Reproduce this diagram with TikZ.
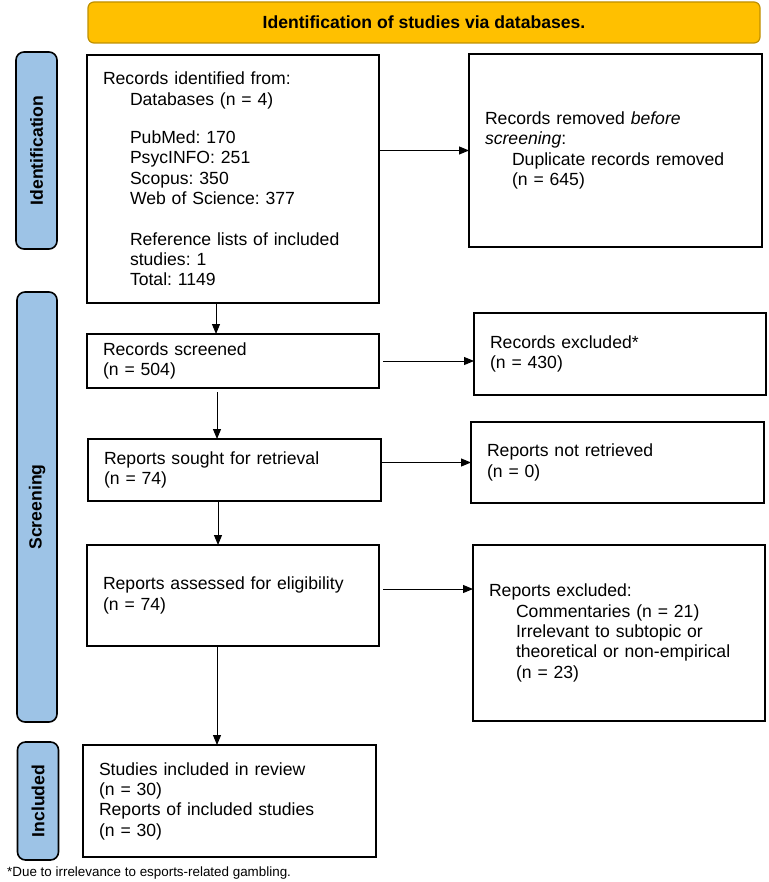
\documentclass[tikz,border=0pt]{standalone}
\usepackage{fontspec}
\setmainfont{Liberation Sans}
\usetikzlibrary{arrows.meta}
\definecolor{gold}{HTML}{FFC000}
\definecolor{golddk}{HTML}{BF9000}
\definecolor{stageblue}{HTML}{9DC3E6}
\tikzset{
  flowbox/.style={draw=black, line width=1.7pt, fill=white, inner xsep=16pt, inner ysep=0pt,
    outer sep=0pt, align=left, anchor=north west, font=\fontsize{17.6}{20.3}\selectfont},
  stage/.style={draw=black, line width=1.6pt, fill=stageblue, rounded corners=8pt, rotate=90,
    inner sep=0pt, font=\bfseries\fontsize{17.6}{20}\selectfont},
  flow/.style={line width=1pt, -{Triangle[length=10pt,width=8pt]}},
}
\newcommand{\ind}{\hspace*{27pt}}
\frenchspacing
\begin{document}
\frenchspacing
\begin{tikzpicture}[x=1pt,y=-1pt]
\useasboundingbox (0,0) rectangle (768,882);
% banner
\node[draw=golddk, line width=1.2pt, fill=gold, rounded corners=6pt, minimum width=672pt,
  minimum height=41pt, inner sep=0pt, font=\bfseries\fontsize{17.6}{20}\selectfont]
  (banner) at (424,22.5) {Identification of studies via databases.};
% stage labels
\node[stage, minimum width=197pt, minimum height=41pt] (sid) at (36.5,150.5) {Identification};
\node[stage, minimum width=430pt, minimum height=40pt] (sscr) at (37,507) {Screening};
\node[stage, minimum width=118pt, minimum height=41pt] (sinc) at (38,801) {Included};
% boxes
\node[flowbox, text width=260pt, minimum height=248pt] (ident) at (87,55) {Records identified from:\\
\ind Databases (n = 4)\\[18pt]
\ind PubMed: 170\\
\ind PsycINFO: 251\\
\ind Scopus: 350\\
\ind Web of Science: 377\\[20.3pt]
\ind Reference lists of included\\
\ind studies: 1\\
\ind Total: 1149};
\node[flowbox, text width=261pt, minimum height=193pt] (removed) at (469,54) {Records removed \textit{before}\\
\textit{screening}:\\
\ind Duplicate records removed\\
\ind (n = 645)};
\node[flowbox, text width=260pt, minimum height=54pt] (screened) at (87,334) {Records screened\\(n = 504)};
\node[flowbox, text width=260pt, minimum height=82pt] (excl) at (474,313) {Records excluded*\\(n = 430)};
\node[flowbox, text width=261pt, minimum height=62pt] (sought) at (88,439) {Reports sought for retrieval\\(n = 74)};
\node[flowbox, text width=261pt, minimum height=81pt] (notret) at (471,422) {Reports not retrieved\\(n = 0)};
\node[flowbox, text width=260pt, minimum height=101pt] (assessed) at (87,545) {Reports assessed for eligibility\\(n = 74)};
\node[flowbox, text width=260pt, minimum height=176pt] (repexcl) at (473,545) {Reports excluded:\\
\ind Commentaries (n = 21)\\
\ind Irrelevant to subtopic or\\
\ind theoretical or non-empirical\\
\ind (n = 23)};
\node[flowbox, text width=261pt, minimum height=112pt] (included) at (83,745) {Studies included in review\\(n = 30)\\Reports of included studies\\(n = 30)};
% footnote
\node[anchor=west, inner sep=0pt, font=\fontsize{13.4}{15}\selectfont] (foot) at (7,873) {*Due to irrelevance to esports-related gambling.};
% connectors
\draw[flow] (removed.west -| ident.east) -- (removed.west);
\draw[flow] ([xshift=4pt]screened.east) -- (screened.east -| excl.west);
\draw[flow] (notret.west -| sought.east) -- (notret.west);
\draw[flow] ([xshift=4pt,yshift=6.5pt]assessed.east) -- ([yshift=6.5pt]assessed.east -| repexcl.west);
\draw[flow] ([xshift=-17pt]ident.south) -- ([xshift=-17pt]ident.south |- screened.north);
\draw[flow] ([xshift=-16pt,yshift=-4pt]screened.south) -- ([xshift=-16pt]screened.south |- sought.north);
\draw[flow] ([xshift=-16.5pt]sought.south) -- ([xshift=-16.5pt]sought.south |- assessed.north);
\draw[flow] ([xshift=-16pt]assessed.south) -- ([xshift=-16pt]assessed.south |- included.north);
\end{tikzpicture}
\end{document}
